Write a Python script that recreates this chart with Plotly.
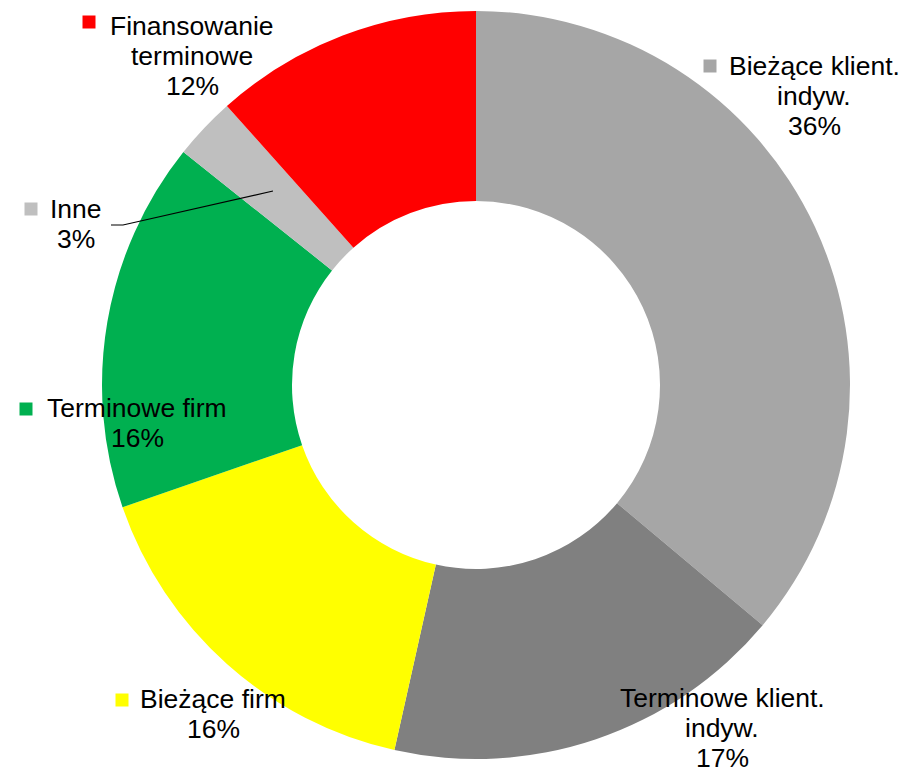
import plotly.graph_objects as go

# data
categories = ["Bieżące klient. indyw.", "Terminowe klient. indyw.", "Bieżące firm",
              "Terminowe firm", "Inne", "Finansowanie terminowe"]
shares = [36.1, 17.4, 16.2, 16.0, 2.7, 11.6]
colors = ["#A6A6A6", "#808080", "#FFFF00", "#00B050", "#BFBFBF", "#FF0000"]

# label layout (pixel positions in the 905x769 canvas)
label_lines = [
    ["Bieżące klient.", "indyw."],
    ["Terminowe klient.", "indyw."],
    ["Bieżące firm"],
    ["Terminowe firm"],
    ["Inne"],
    ["Finansowanie", "terminowe"],
]
# x centre and baseline of first line
label_pos = [(814, 75), (722, 707), (213, 708), (137, 417), (76, 218), (192, 35)]
key_pos = [(710, 66), (606, 697), (122, 700), (26, 409), (31, 209), (89, 22)]
LINE_GAP = 30

W, H = 905, 769


def px(x):
    return x / W


def py(y):
    return 1 - y / H


cx, cy, r = 476, 385, 374

fig = go.Figure()
fig.add_trace(go.Pie(
    labels=categories,
    values=shares,
    sort=False,
    direction="clockwise",
    rotation=0,
    hole=0.492,
    marker=dict(colors=colors, line=dict(width=0)),
    textinfo="none",
    hoverinfo="label+percent",
    showlegend=False,
    domain=dict(x=[px(cx - r), px(cx + r)], y=[py(cy + r), py(cy - r)]),
))

font = dict(family="Liberation Sans, Arial", size=26.5, color="black")
annotations = []
shapes = []
for lines, val, (lx, base), (kx, ky), col in zip(label_lines, shares, label_pos, key_pos, colors):
    for i, line in enumerate(lines + [f"{val:.0f}%"]):
        annotations.append(dict(
            x=px(lx), y=py(base + i * LINE_GAP - 9.5), xref="paper", yref="paper",
            text=line, showarrow=False, xanchor="center", yanchor="middle",
            font=font,
        ))
    s = 6.5
    shapes.append(dict(
        type="rect", xref="paper", yref="paper",
        x0=px(kx - s), x1=px(kx + s), y0=py(ky + s), y1=py(ky - s),
        fillcolor=col, line=dict(width=0),
    ))

# leader line for "Inne"
shapes.append(dict(
    type="path", xref="paper", yref="paper",
    path=f"M {px(111)} {py(225)} L {px(123)} {py(225)} L {px(273)} {py(191)}",
    line=dict(color="black", width=1.2),
))

fig.update_layout(
    width=W, height=H,
    margin=dict(l=0, r=0, t=0, b=0),
    paper_bgcolor="white",
    plot_bgcolor="white",
    annotations=annotations,
    shapes=shapes,
)

# drop the default page margin so the figure sits at the window corner
fig.write_html("out.html", config={"displayModeBar": False},
               post_script="document.body.style.margin='0';")
